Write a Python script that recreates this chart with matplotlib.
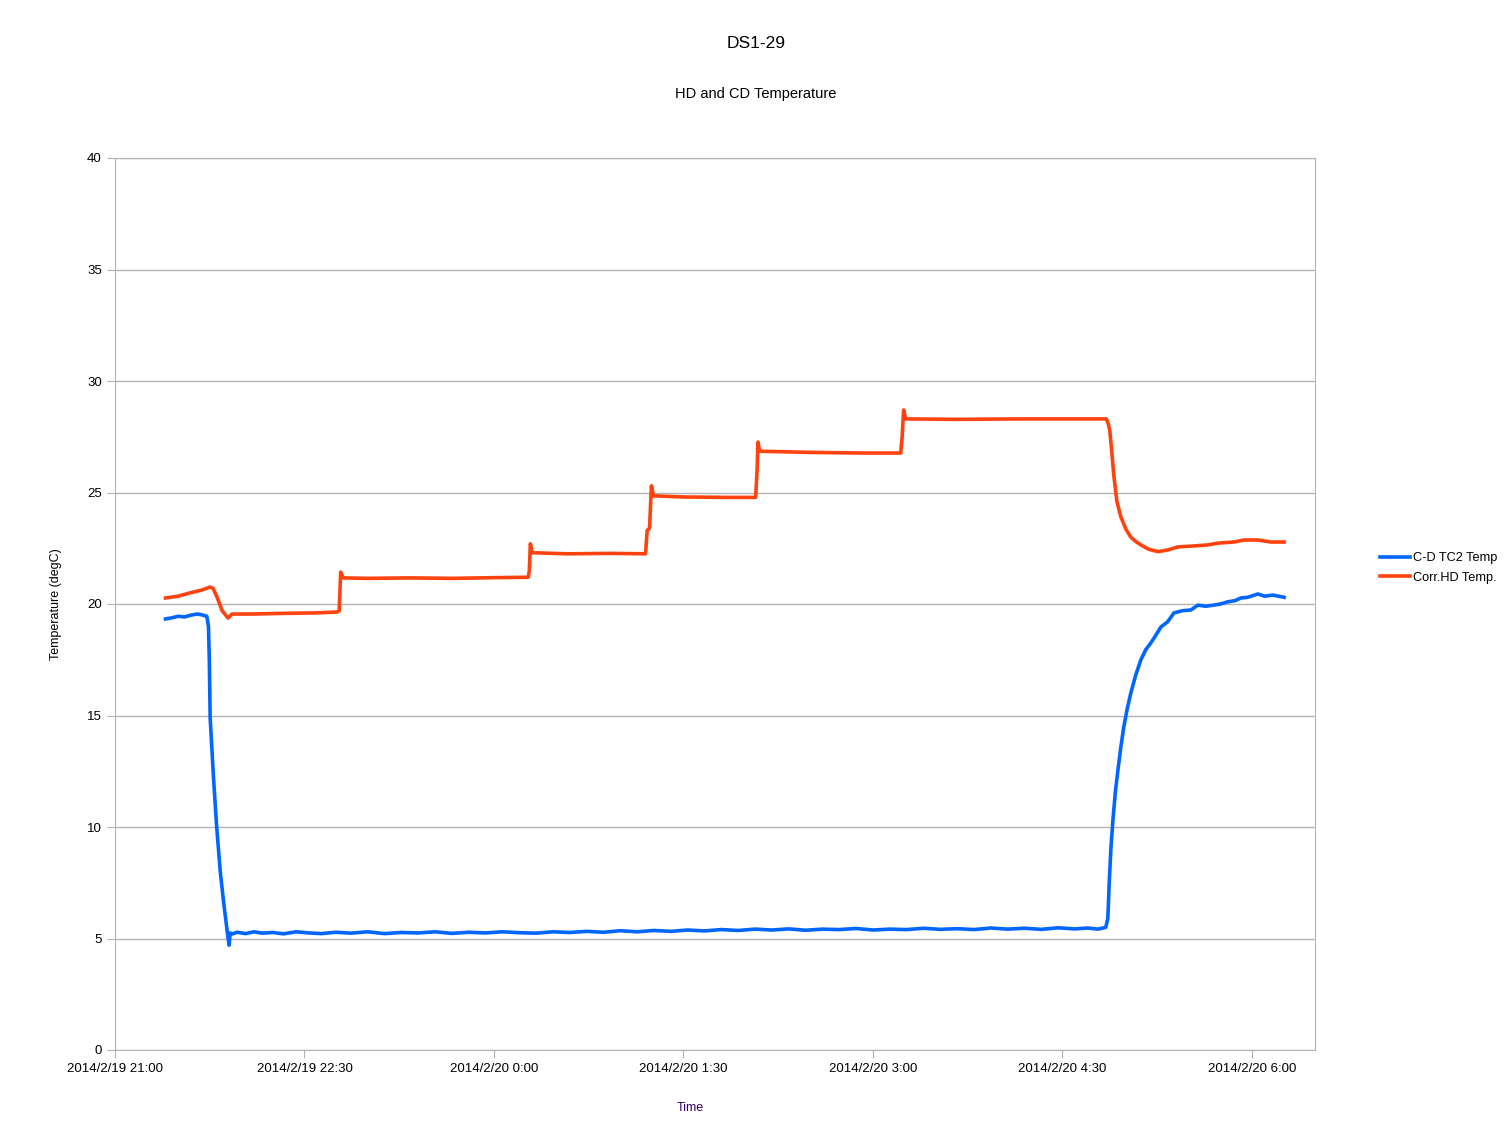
import datetime as dt
import matplotlib
matplotlib.use("Agg")
from matplotlib import pyplot as plt
from matplotlib.ticker import FuncFormatter, MultipleLocator
import matplotlib.dates as mdates

plt.rcParams['font.family'] = ['Liberation Sans', 'DejaVu Sans']

t0 = dt.datetime(2014, 2, 19, 21, 0)

# C-D TC2 Temp : minutes after 21:00, degC
cd_min = [24, 27, 30, 33, 36, 39, 41, 43.6, 44.4, 44.8, 45.2, 46.8, 48.3, 50, 51.5, 52.8, 53.6,
          54.2, 54.7, 55.5, 58, 62, 66, 70, 75, 80, 86, 92, 98, 105, 112, 120, 128, 136, 144,
          152, 160, 168, 176, 184, 192, 200, 208, 216, 224, 232, 240, 248, 256, 264, 272, 280,
          288, 296, 304, 312, 320, 328, 336, 344, 352, 360, 368, 376, 384, 392, 400, 408, 416,
          424, 432, 440, 448, 456, 462, 467, 470.6, 471.6, 472.3, 473.1, 474, 475.2, 476.4, 477.8,
          479.2, 480.8, 482.5, 484.8, 487.3, 489.6, 492, 494.4, 496.8, 500, 503, 507, 511, 514.4,
          518, 522, 525, 528.7, 532, 534.8, 538, 542.9, 546, 550, 555.3]
cd_temp = [19.33, 19.38, 19.45, 19.42, 19.5, 19.55, 19.52, 19.45, 19.0, 17.5, 14.9, 12.2, 10.0,
           8.0, 6.7, 5.7, 5.1, 4.7, 5.25, 5.2, 5.28, 5.22, 5.3, 5.24, 5.27, 5.21, 5.3, 5.25,
           5.22, 5.28, 5.24, 5.3, 5.22, 5.27, 5.25, 5.3, 5.23, 5.28, 5.25, 5.3, 5.26, 5.24, 5.3,
           5.27, 5.32, 5.28, 5.35, 5.3, 5.36, 5.32, 5.38, 5.34, 5.4, 5.36, 5.42, 5.38, 5.43,
           5.37, 5.42, 5.4, 5.45, 5.38, 5.42, 5.4, 5.46, 5.41, 5.44, 5.4, 5.47, 5.42, 5.46, 5.41,
           5.48, 5.43, 5.47, 5.42, 5.5, 5.9, 7.6, 9.1, 10.3, 11.6, 12.56, 13.6, 14.5, 15.3, 16.0,
           16.8, 17.5, 17.95, 18.25, 18.6, 18.97, 19.2, 19.6, 19.7, 19.73, 19.95, 19.9, 19.95,
           20.0, 20.1, 20.15, 20.27, 20.3, 20.45, 20.35, 20.4, 20.3]

# Corr.HD Temp.
hd_min = [24, 30, 35.7, 41, 45.2, 46.6, 48.5, 50.9, 53.7, 55.6, 65, 80, 95, 105.5, 106.5, 107.2,
          108.4, 120, 140, 160, 180, 196.3, 196.8, 197.3, 198.2, 215, 235, 252, 252.8, 253.9,
          254.8, 255.8, 270, 290, 304.3, 305, 305.4, 306.2, 330, 355, 373.2, 373.9, 374.6,
          375.6, 400, 430, 460, 470.8, 471.6, 472.5, 473.5, 474.4, 475.9, 477.8, 480.2, 482.5,
          484.9, 487.3, 491.1, 495.4, 500, 504.9, 512, 519.1, 523.9, 531.5, 536.3, 542.9, 549,
          555.3]
hd_temp = [20.27, 20.35, 20.5, 20.62, 20.76, 20.7, 20.3, 19.7, 19.37, 19.55, 19.55, 19.58, 19.6,
           19.64, 19.7, 21.43, 21.17, 21.15, 21.17, 21.15, 21.18, 21.2, 21.5, 22.7, 22.3, 22.25,
           22.27, 22.25, 23.3, 23.4, 25.3, 24.85, 24.8, 24.78, 24.78, 26.0, 27.26, 26.85, 26.8,
           26.77, 26.77, 27.5, 28.7, 28.3, 28.28, 28.3, 28.3, 28.3, 28.15, 27.8, 26.8, 25.8,
           24.6, 23.9, 23.35, 23.0, 22.8, 22.65, 22.45, 22.35, 22.42, 22.56, 22.6, 22.65, 22.73,
           22.78, 22.87, 22.87, 22.78, 22.78]

cd_time = [t0 + dt.timedelta(minutes=m) for m in cd_min]
hd_time = [t0 + dt.timedelta(minutes=m) for m in hd_min]

fig = plt.figure(figsize=(15.12, 11.34), dpi=100)
ax = fig.add_axes([115 / 1512, 1 - 1050 / 1134, 1200 / 1512, 892 / 1134])

ax.plot(cd_time, cd_temp, color='#0066ff', lw=2.6, label='C-D TC2 Temp', solid_joinstyle='round')
ax.plot(hd_time, hd_temp, color='#ff420e', lw=2.6, label='Corr.HD Temp.', solid_joinstyle='round')

ax.set_ylim(0, 40)
ax.yaxis.set_major_locator(MultipleLocator(5))
ax.set_xlim(t0, t0 + dt.timedelta(minutes=570))
ax.set_xticks([t0 + dt.timedelta(minutes=90 * i) for i in range(7)])


def fmt(v, pos):
    d = mdates.num2date(v)
    return "{}/{}/{} {}:{:02d}".format(d.year, d.month, d.day, d.hour, d.minute)


ax.xaxis.set_major_formatter(FuncFormatter(fmt))

ax.grid(axis='y', color='#b3b3b3', lw=1)
ax.set_axisbelow(True)
for s in ax.spines.values():
    s.set_color('#b3b3b3')
ax.tick_params(axis='both', direction='out', length=6, color='#b3b3b3', labelsize=9.5)
ax.tick_params(axis='x', pad=3)

ax.set_xlabel('Time', fontsize=9, color='#330066')
ax.xaxis.set_label_coords((690 - 115) / 1200, (1050 - 1108) / 892)
ax.set_ylabel('Temperature (degC)', fontsize=9)
ax.yaxis.set_label_coords((56 - 115) / 1200, 0.5)
ax.yaxis.label.set_va('center')
ax.xaxis.label.set_va('center')

fig.text(0.5, 1 - 44 / 1134, 'DS1-29', ha='center', va='center', fontsize=12.5)
fig.text(0.5, 1 - 94 / 1134, 'HD and CD Temperature', ha='center', va='center', fontsize=10.5)

fig.legend(loc='center left', bbox_to_anchor=(1368 / 1512, 1 - 568 / 1134), frameon=False,
           fontsize=9.2, handlelength=2.4, handletextpad=0.25, labelspacing=0.55)

fig.savefig('out.png', dpi=100)
